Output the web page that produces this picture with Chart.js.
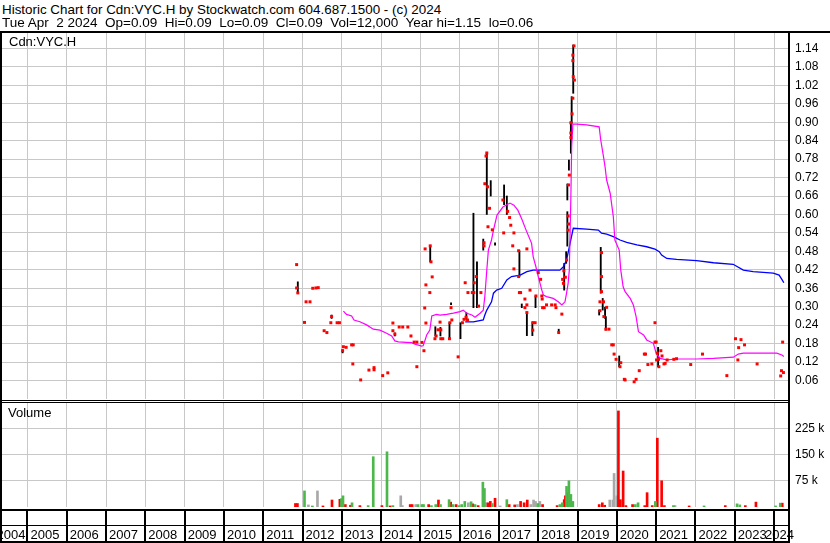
<!DOCTYPE html>
<html><head><meta charset="utf-8">
<script src="https://cdn.jsdelivr.net/npm/chart.js@4.4.1/dist/chart.umd.min.js"></script>
<style>
html,body{margin:0;padding:0;background:#fff;}
#wrap{position:relative;width:830px;height:543px;overflow:hidden;background:#fff;font-family:"Liberation Sans",Arial,sans-serif;}
.t{position:absolute;white-space:pre;font-size:13px;color:#000;line-height:13px;}
.ln{position:absolute;background:#000;}
canvas{position:absolute;left:0;}
</style></head><body>
<div id="wrap">
<canvas id="price" width="830" height="366" style="top:33px;width:830px;height:366px"></canvas>
<canvas id="vol" width="830" height="140" style="top:403px;width:830px;height:140px"></canvas>
<div class="t" style="left:2px;top:3px;font-size:13.4px">Historic Chart for Cdn:VYC.H by Stockwatch.com 604.687.1500 - (c) 2024</div>
<div class="t" style="left:2px;top:16px;font-size:13.5px">Tue Apr  2 2024  Op=0.09  Hi=0.09  Lo=0.09  Cl=0.09  Vol=12,000  Year hi=1.15  lo=0.06</div>
<div class="t" style="left:9px;top:35px">Cdn:VYC.H</div>
<div class="t" style="left:8px;top:406px">Volume</div>
<div class="ln" style="left:0;top:31px;width:830px;height:2px"></div>
<div class="ln" style="left:0;top:31px;width:2px;height:512px"></div>
<div class="ln" style="left:788px;top:31px;width:2px;height:512px"></div>
<div class="ln" style="left:0;top:400px;width:790px;height:1px"></div>
<div class="ln" style="left:0;top:402px;width:790px;height:1px"></div>
<div class="ln" style="left:0;top:509px;width:790px;height:2px"></div>
<div class="ln" style="left:0;top:525px;width:790px;height:1px"></div>
<div class="ln" style="left:0;top:541px;width:790px;height:2px"></div>
</div>
<script>
// ---- axis settings / tick labels ----
const X_MIN = 2004.351, X_MAX = 2024.407;
const yearTicks = [2005,2006,2007,2008,2009,2010,2011,2012,2013,2014,2015,2016,2017,2018,2019,2020,2021,2022,2023,2024];
const yearLabels = ['2004','2005','2006','2007','2008','2009','2010','2011','2012','2013','2014','2015','2016','2017','2018','2019','2020','2021','2022','2023','2024'];
const priceTicks = [0.06,0.12,0.18,0.24,0.30,0.36,0.42,0.48,0.54,0.60,0.66,0.72,0.78,0.84,0.90,0.96,1.02,1.08,1.14];
const volumeTicks = [75000,150000,225000];

// ---- daily closes (red squares) ----
const closeYears = [2011.85,2011.85,2011.88,2012.05,2012.09,2012.19,2012.26,2012.34,2012.40,2012.55,2012.62,2012.74,2012.72,2012.88,2012.94,2013.04,2013.02,2013.11,2013.25,2013.29,2013.28,2013.48,2013.69,2013.82,2013.82,2014.04,2014.17,2014.30,2014.30,2014.35,2014.46,2014.55,2014.68,2014.76,2014.84,2014.91,2014.91,2015.04,2015.09,2015.11,2015.14,2015.14,2015.24,2015.30,2015.12,2015.25,2015.27,2015.50,2015.45,2015.52,2015.40,2015.37,2015.52,2015.57,2015.74,2015.75,2015.78,2015.80,2015.96,2016.07,2016.14,2016.11,2016.16,2016.20,2016.21,2016.32,2016.36,2016.37,2016.42,2016.48,2016.54,2016.62,2016.62,
2016.69,2016.67,2016.64,2016.71,2016.76,2016.72,2016.83,2017.10,2017.22,2017.27,2017.30,2017.12,2017.38,
2017.35,2017.38,2017.50,2017.50,2017.71,2017.52,2017.55,2017.79,2017.66,2017.71,2017.66,2017.71,2017.87,2017.92,2017.86,2017.94,2018.00,2018.09,2018.10,2018.11,2018.15,2018.21,2018.34,2018.43,2018.45,2018.52,2018.60,2018.06,
2018.91,2018.88,2018.88,2018.89,2018.92,2018.88,2018.86,2018.83,2018.83,2018.83,2018.79,2018.77,2018.76,2018.77,2018.76,2018.72,2018.65,2018.62,2018.69,2018.64,
2019.61,2019.61,2019.61,2019.57,2019.66,2019.57,2019.67,2019.74,2019.72,2019.80,2019.87,2019.91,2019.93,2019.98,2020.10,2020.08,2020.19,2020.21,2020.44,2020.49,2020.57,2020.70,2020.73,2020.79,2020.89,2020.97,2020.97,2021.00,2021.03,2021.06,2021.01,2021.07,2021.12,2021.15,2021.20,2021.23,2021.28,2021.45,2021.52,2021.88,2022.18,2022.80,2023.02,2023.16,2023.10,2023.25,2023.08,2023.57,2024.22,2024.19,2024.24,2024.17];
const closePrices = [0.437,0.361,0.345,0.249,0.316,0.316,0.360,0.361,0.362,0.222,0.216,0.268,0.248,0.248,0.248,0.170,0.157,0.168,0.176,0.176,0.114,0.062,0.094,0.102,0.095,0.076,0.085,0.247,0.222,0.211,0.234,0.234,0.234,0.205,0.185,0.185,0.105,0.184,0.157,0.296,0.247,0.371,0.346,0.397,0.488,0.498,0.446,0.250,0.225,0.225,0.205,0.196,0.196,0.196,0.196,0.248,0.297,0.257,0.137,0.248,0.378,0.259,0.266,0.257,0.346,0.346,0.346,0.378,0.398,0.302,0.346,0.508,0.498,
0.800,0.790,0.700,0.690,0.620,0.560,0.550,0.647,0.610,0.590,0.565,0.540,0.540,
0.498,0.423,0.482,0.398,0.488,0.346,0.346,0.354,0.325,0.306,0.297,0.281,0.248,0.248,0.224,0.335,0.411,0.335,0.325,0.297,0.297,0.306,0.306,0.306,0.297,0.216,0.276,0.389,
1.148,1.118,1.100,1.048,1.037,0.978,0.927,0.898,0.865,0.850,0.728,0.696,0.595,0.569,0.549,0.452,0.417,0.389,0.396,0.376,
0.476,0.398,0.349,0.316,0.316,0.287,0.268,0.298,0.227,0.227,0.176,0.176,0.146,0.129,0.118,0.105,0.064,0.062,0.056,0.064,0.092,0.146,0.146,0.112,0.114,0.248,0.185,0.185,0.149,0.129,0.127,0.105,0.157,0.140,0.114,0.116,0.127,0.129,0.131,0.112,0.146,0.076,0.196,0.193,0.167,0.176,0.127,0.114,0.185,0.092,0.086,0.075];

// ---- daily high-low ranges (black bars) ----
const rangeYears = [2011.88,2012.74,2013.02,2014.35,2015.25,2015.38,2015.51,2015.74,2015.78,2016.02,2016.17,2016.35,2016.44,2016.60,2016.69,2016.79,2016.90,2017.13,2017.20,2017.52,2017.58,2017.71,2017.85,2017.93,2018.52,2018.89,2018.85,2018.83,2018.78,2018.74,2018.74,2018.71,2018.66,2019.59,2019.64,2019.55,2019.70,2019.72,2020.06,2021.05];
const rangeLows  = [0.344,0.262,0.150,0.205,0.446,0.205,0.205,0.196,0.307,0.196,0.257,0.297,0.297,0.484,0.600,0.660,0.500,0.632,0.600,0.398,0.297,0.206,0.206,0.297,0.216,0.994,0.896,0.799,0.744,0.647,0.497,0.441,0.354,0.344,0.289,0.273,0.262,0.224,0.105,0.105];
const rangeHighs = [0.381,0.273,0.160,0.215,0.498,0.235,0.233,0.248,0.313,0.248,0.281,0.604,0.446,0.520,0.800,0.710,0.508,0.696,0.660,0.482,0.309,0.281,0.251,0.335,0.227,1.151,0.983,0.901,0.777,0.699,0.609,0.479,0.441,0.493,0.327,0.289,0.298,0.268,0.140,0.168];

// ---- shorter moving average (magenta) ----
const maShortYears = [2013.04,2013.12,2013.25,2013.31,2013.46,2013.63,2013.80,2013.97,2014.14,2014.27,2014.35,2014.44,2014.65,2014.78,2014.86,2014.95,2015.03,2015.07,2015.12,2015.16,2015.24,2015.29,2015.41,2015.50,2015.67,2015.84,2016.01,2016.09,2016.18,2016.31,2016.39,2016.52,2016.60,2016.64,2016.69,2016.73,2016.81,2016.86,2016.95,2017.10,2017.28,2017.38,2017.48,2017.58,2017.69,2017.83,2017.87,2017.94,2018.00,2018.09,2018.13,2018.21,2018.38,2018.51,2018.60,2018.68,2018.72,2018.76,2018.79,2018.83,2018.85,2018.88,2018.98,2019.23,2019.55,2019.59,2019.66,2019.70,2019.74,2019.83,2019.91,2019.95,2020.06,2020.10,2020.16,2020.21,2020.34,2020.42,2020.49,2020.55,2020.68,2020.76,2020.93,2021.00,2021.10,2021.27,2021.52,2022.03,2022.46,2022.97,2023.09,2023.22,2024.07,2024.20,2024.25];
const maShortValues = [0.286,0.275,0.270,0.257,0.251,0.241,0.227,0.224,0.214,0.205,0.189,0.186,0.184,0.183,0.178,0.175,0.172,0.173,0.192,0.208,0.224,0.270,0.275,0.273,0.275,0.279,0.284,0.289,0.279,0.273,0.266,0.279,0.289,0.333,0.419,0.484,0.517,0.549,0.598,0.624,0.637,0.630,0.614,0.585,0.549,0.506,0.463,0.430,0.398,0.354,0.338,0.333,0.327,0.316,0.306,0.316,0.344,0.376,0.419,0.658,0.820,0.894,0.894,0.891,0.885,0.842,0.788,0.755,0.712,0.669,0.593,0.517,0.484,0.419,0.365,0.349,0.327,0.306,0.268,0.219,0.208,0.192,0.181,0.149,0.132,0.127,0.130,0.130,0.132,0.136,0.146,0.149,0.149,0.143,0.138];

// ---- longer moving average (blue) ----
const maLongYears = [2016.14,2016.35,2016.60,2016.64,2016.69,2016.81,2016.86,2016.94,2017.07,2017.20,2017.32,2017.54,2017.71,2017.87,2018.55,2018.64,2018.72,2018.81,2018.89,2019.23,2019.53,2019.61,2019.74,2019.91,2020.08,2020.25,2020.51,2020.76,2020.97,2021.08,2021.14,2021.27,2021.52,2022.03,2022.46,2022.96,2023.22,2023.47,2023.98,2024.13,2024.20,2024.25];
const maLongValues = [0.251,0.251,0.257,0.273,0.289,0.316,0.344,0.354,0.360,0.387,0.398,0.403,0.414,0.419,0.419,0.430,0.452,0.506,0.555,0.552,0.549,0.539,0.536,0.528,0.517,0.509,0.501,0.495,0.487,0.479,0.468,0.457,0.454,0.450,0.443,0.438,0.419,0.414,0.409,0.403,0.389,0.378];

// ---- volume: up days (green), down days (red), unchanged (grey) ----
const volUpYears = [2012.05,2012.25,2012.99,2013.03,2013.26,2013.67,2013.80,2014.15,2014.30,2014.94,2015.04,2015.08,2015.28,2015.39,2015.51,2015.73,2015.83,2015.98,2016.05,2016.13,2016.29,2016.39,2016.59,2016.63,2016.83,2017.20,2017.99,2018.55,2018.61,2018.72,2018.78,2018.83,2018.88,2020.47,2020.54,2020.98,2021.44,2022.22,2023.06,2023.13,2024.04,2024.16];
const volUp = [46000,3000,24000,32000,12000,4000,144000,158000,4000,7000,7000,7000,4000,7000,7000,21000,7000,4000,7000,16000,15000,7000,71000,53000,10000,21000,10000,7000,12000,59000,75000,36000,16000,7000,12000,16000,4000,3000,9000,6000,3000,11000];
const volDownYears = [2011.82,2011.87,2012.52,2012.75,2012.95,2013.09,2013.22,2013.46,2014.02,2014.23,2014.74,2014.79,2015.21,2015.46,2015.77,2015.91,2016.33,2016.47,2016.72,2016.78,2016.90,2017.26,2017.40,2017.55,2017.64,2017.72,2018.11,2018.48,2018.66,2018.69,2018.74,2019.55,2019.63,2019.69,2020.04,2020.09,2020.16,2020.23,2020.40,2020.71,2020.77,2020.90,2021.01,2021.03,2021.14,2021.21,2021.84,2022.76,2023.27,2023.54,2024.21];
const volDown = [10000,10000,3000,20000,22000,7000,5000,4000,4000,3000,7000,7000,7000,20000,14000,7000,9000,4000,12000,16000,25000,7000,6000,16000,12000,20000,7000,4000,21000,32000,41000,7000,12000,5000,275000,21000,103000,4000,7000,4000,41000,4000,4000,197000,75000,4000,3000,4000,4000,14000,11000];
const volFlatYears = [2012.15,2012.38,2014.50,2014.54,2014.88,2016.22,2016.67,2017.03,2017.47,2017.81,2017.88,2017.93,2018.04,2019.82,2019.90,2019.93,2020.00,2021.48];
const volFlat = [6000,46000,32000,4000,7000,12000,12000,3000,7000,7000,20000,16000,16000,20000,20000,96000,32000,4000];

// ---- build datasets ----
const zip = (xs, ys) => xs.map((x, i) => ({x: x, y: ys[i]}));
const GRID = '#c8c8c8';
const FONT = 'Liberation Sans';
const setYears = s => { s.ticks = yearTicks.map(v => ({value: v})); };
const fitX = h => s => { s.height = h; s.paddingLeft = 0; s.paddingRight = 0; s.paddingTop = 0; s.paddingBottom = 0; };
const fitY = s => { s.width = 40; s.paddingTop = 0; s.paddingBottom = 0; s.paddingLeft = 0; s.paddingRight = 0; };

new Chart(document.getElementById('price'), {
  data: {datasets: [
    {type: 'scatter', data: zip(closeYears, closePrices), pointStyle: 'rect', pointRadius: 2.1, pointHoverRadius: 2.1, backgroundColor: '#ff0000', borderWidth: 0, order: 0},
    {type: 'line', data: zip(maShortYears, maShortValues), borderColor: '#ff00ff', borderWidth: 1.2, pointRadius: 0, tension: 0, fill: false, order: 1},
    {type: 'line', data: zip(maLongYears, maLongValues), borderColor: '#0000ff', borderWidth: 1.3, pointRadius: 0, tension: 0, fill: false, order: 2},
    {type: 'bar', data: rangeYears.map((x, i) => ({x: x, y: [rangeLows[i], rangeHighs[i]]})), backgroundColor: '#000', barThickness: 1.2, grouped: false, order: 3}
  ]},
  options: {
    responsive: false, maintainAspectRatio: false, animation: false, devicePixelRatio: 1,
    layout: {autoPadding: false, padding: {left: 2, right: 0, top: 0, bottom: 0}},
    plugins: {legend: {display: false}, tooltip: {enabled: false}, title: {display: false}},
    scales: {
      x: {type: 'linear', offset: false, min: X_MIN, max: X_MAX, afterBuildTicks: setYears, afterFit: fitX(0),
          ticks: {display: false}, grid: {color: GRID, drawTicks: false, offset: false}, border: {display: false}},
      y: {type: 'linear', position: 'right', min: 0, max: 1.19, grace: 0,
          afterBuildTicks: s => { s.ticks = priceTicks.map(v => ({value: v})); }, afterFit: fitY,
          ticks: {padding: 5, color: '#000', font: {family: FONT, size: 12}, callback: v => v.toFixed(2)},
          grid: {color: GRID, drawTicks: false}, border: {display: false}}
    }
  }
});

const yearAxisPlugin = {
  id: 'yearAxis',
  afterDraw(chart) {
    const ctx = chart.ctx, xs = chart.scales.x;
    const top = 106, bottom = 140;
    ctx.save();
    ctx.strokeStyle = '#000'; ctx.lineWidth = 2;
    yearTicks.forEach(v => {
      const px = Math.round(xs.getPixelForValue(v));
      ctx.beginPath(); ctx.moveTo(px, top); ctx.lineTo(px, bottom); ctx.stroke();
    });
    ctx.fillStyle = '#000'; ctx.font = '13px "' + FONT + '"';
    ctx.textBaseline = 'alphabetic';
    yearLabels.forEach(lbl => {
      const v = parseInt(lbl, 10);
      const w = ctx.measureText(lbl).width;
      let left = Math.max(xs.getPixelForValue(v) + 3, -3.5);
      if (left + w > 794) left = 794 - w;
      ctx.fillText(lbl, left, 136);
    });
    ctx.restore();
  }
};

new Chart(document.getElementById('vol'), {
  type: 'bar',
  data: {datasets: [
    {data: zip(volUpYears, volUp), backgroundColor: '#4cb84c', barThickness: 2, grouped: false},
    {data: zip(volDownYears, volDown), backgroundColor: '#ff0000', barThickness: 2, grouped: false},
    {data: zip(volFlatYears, volFlat), backgroundColor: '#a8a8a8', barThickness: 2, grouped: false}
  ]},
  options: {
    responsive: false, maintainAspectRatio: false, animation: false, devicePixelRatio: 1,
    layout: {autoPadding: false, padding: {left: 2, right: 0, top: 0, bottom: 0}},
    plugins: {legend: {display: false}, tooltip: {enabled: false}, title: {display: false}},
    scales: {
      x: {type: 'linear', offset: false, min: X_MIN, max: X_MAX, afterBuildTicks: setYears, afterFit: fitX(36),
          ticks: {display: false}, grid: {color: GRID, drawTicks: false, offset: false}, border: {display: false}},
      y: {type: 'linear', position: 'right', min: 0, max: 297700, grace: 0,
          afterBuildTicks: s => { s.ticks = volumeTicks.map(v => ({value: v})); }, afterFit: fitY,
          ticks: {padding: 5, color: '#000', font: {family: FONT, size: 12}, callback: v => (v / 1000) + ' k'},
          grid: {color: GRID, drawTicks: false}, border: {display: false}}
    }
  },
  plugins: [yearAxisPlugin]
});
</script>
</body></html>
